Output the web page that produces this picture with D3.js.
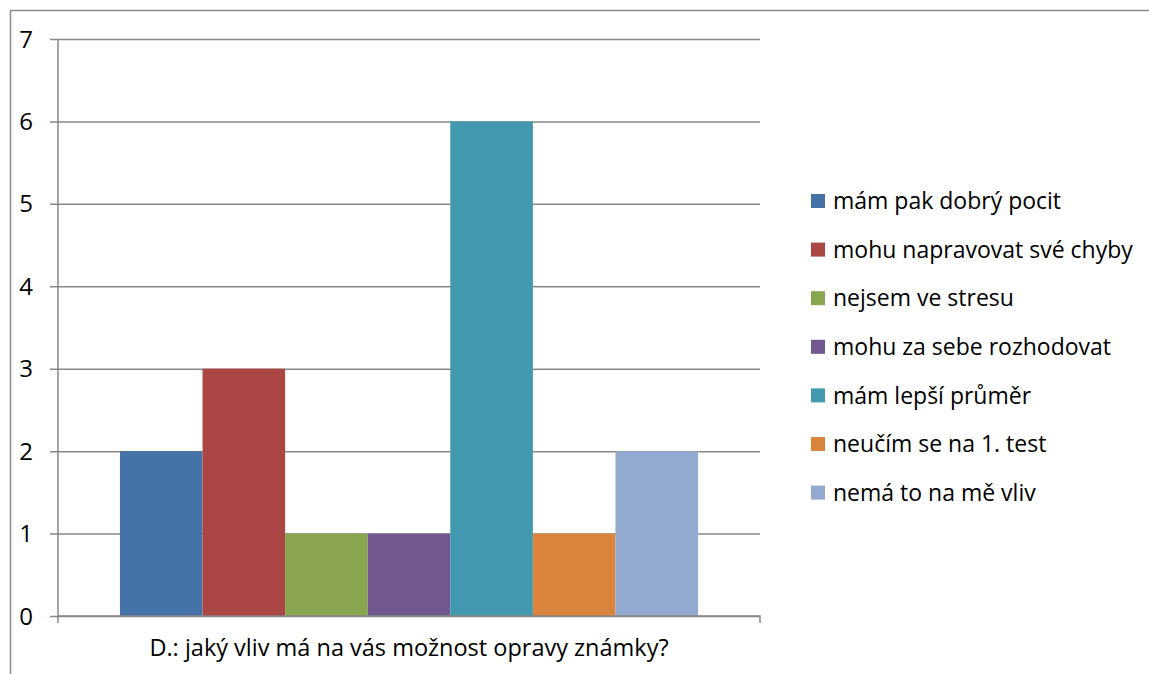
<!DOCTYPE html>
<html>
<head>
<meta charset="utf-8">
<script src="https://cdn.jsdelivr.net/npm/d3@7"></script>
<style>
    html, body { margin: 0; padding: 0; background: #fff; }
    #chart { width: 1149px; height: 674px; }
    text { font-family: "Open Sans", "Noto Sans", sans-serif; fill: #000; }
</style>
</head>
<body>
<div id="chart"></div>
<script>
const categories = [
    "mám pak dobrý pocit",
    "mohu napravovat své chyby",
    "nejsem ve stresu",
    "mohu za sebe rozhodovat",
    "mám lepší průměr",
    "neučím se na 1. test",
    "nemá to na mě vliv"
];
const values = [2, 3, 1, 1, 6, 1, 2];
const colors = ["#4572a7", "#aa4643", "#89a54e", "#71588f", "#4198af", "#db843d", "#93a9cf"];
const yTicks = [0, 1, 2, 3, 4, 5, 6, 7];
const axisTitle = "D.: jaký vliv má na vás možnost opravy známky?";

const W = 1149, H = 674;
const plot = { left: 58, right: 760, top: 39, bottom: 616 };
const gridColor = "#878787";

const svg = d3.select("#chart").append("svg")
    .attr("width", W)
    .attr("height", H);

// chart frame (cut at right/bottom edges)
svg.append("path")
    .attr("d", `M10.5,${H} V10.5 H${W}`)
    .attr("fill", "none")
    .attr("stroke", "#8c8c8c")
    .attr("stroke-width", 1.5);

const yScale = d3.scaleLinear()
    .domain([0, 7])
    .range([plot.bottom, plot.top]);

const xScale = d3.scaleBand()
    .domain(categories)
    .range([plot.left, plot.right])
    .paddingInner(0)
    .paddingOuter(0.75);

// gridlines with tick marks
const yAxis = d3.axisLeft(yScale)
    .tickValues(yTicks)
    .tickSize(-(plot.right - plot.left))
    .tickSizeOuter(0)
    .tickFormat("");
const gy = svg.append("g")
    .attr("transform", `translate(${plot.left},0)`)
    .call(yAxis);
gy.select(".domain").remove();
gy.selectAll(".tick line")
    .attr("x1", -8)
    .attr("stroke", gridColor)
    .attr("stroke-width", 1.5);

// bars
svg.append("g").selectAll("rect")
    .data(values)
    .join("rect")
    .attr("x", (d, i) => xScale(categories[i]))
    .attr("y", d => yScale(d))
    .attr("width", xScale.bandwidth())
    .attr("height", d => yScale(0) - yScale(d))
    .attr("fill", (d, i) => colors[i]);

// y axis line
svg.append("line")
    .attr("x1", plot.left).attr("x2", plot.left)
    .attr("y1", plot.top).attr("y2", plot.bottom + 7)
    .attr("stroke", gridColor)
    .attr("stroke-width", 1.5);

// x axis line + end ticks
svg.append("path")
    .attr("d", `M${plot.left},${yScale(0)} H${plot.right} V${yScale(0) + 7}`)
    .attr("fill", "none")
    .attr("stroke", gridColor)
    .attr("stroke-width", 1.5);

// y tick labels
svg.append("g").selectAll("text")
    .data(yTicks)
    .join("text")
    .attr("x", 33)
    .attr("y", d => yScale(d))
    .attr("dy", "0.36em")
    .attr("text-anchor", "end")
    .attr("font-size", 24)
    .text(d => d);

// category label
svg.append("text")
    .attr("x", (plot.left + plot.right) / 2)
    .attr("y", 656)
    .attr("text-anchor", "middle")
    .attr("font-size", 23.5)
    .text(axisTitle);

// legend
const legend = svg.append("g").attr("transform", "translate(811,201)");
const rows = legend.selectAll("g")
    .data(categories)
    .join("g")
    .attr("transform", (d, i) => `translate(0,${i * 48.6})`);
rows.append("rect")
    .attr("x", 0).attr("y", -7)
    .attr("width", 14).attr("height", 14)
    .attr("fill", (d, i) => colors[i]);
rows.append("text")
    .attr("x", 22)
    .attr("dy", "0.36em")
    .attr("font-size", 23)
    .text(d => d);
</script>
</body>
</html>
